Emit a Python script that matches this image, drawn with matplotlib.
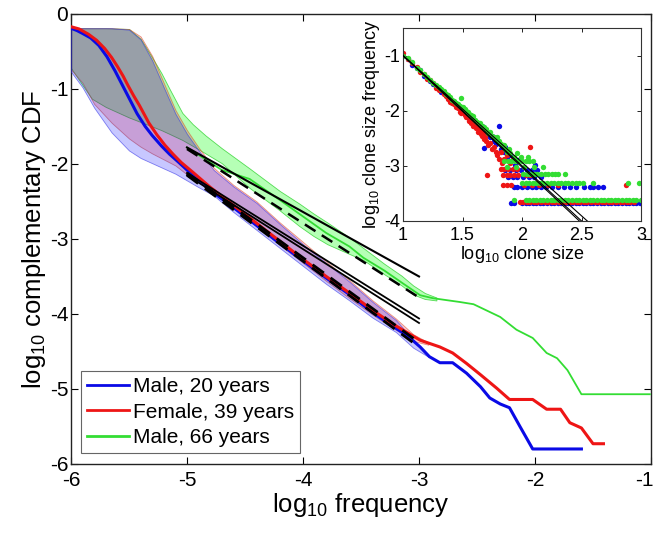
import numpy as np
import matplotlib
matplotlib.use("Agg")
import matplotlib.pyplot as plt
import matplotlib.transforms as mtransforms
from matplotlib.lines import Line2D

plt.rcParams['font.family'] = ['Liberation Sans', 'DejaVu Sans']
plt.rcParams['mathtext.fontset'] = 'custom'
plt.rcParams['mathtext.rm'] = 'Liberation Sans'
plt.rcParams['mathtext.it'] = 'Liberation Sans'

# ---------------- main panel data (log10 frequency vs log10 CCDF) ----------------
labels = ["Male, 20 years", "Female, 39 years", "Male, 66 years"]
c_blue, c_red, c_green = "#0a0ae6", "#ee1515", "#33dd33"

blue_x = [-6.0, -5.95, -5.9, -5.83, -5.76, -5.69, -5.62, -5.56, -5.5, -5.43, -5.36, -5.3, -5.22,
          -5.15, -5.07, -5.0, -4.8, -4.6, -4.4, -4.2, -4.0, -3.8, -3.6, -3.4, -3.22, -3.1, -2.99,
          -2.91, -2.82, -2.71, -2.59, -2.47, -2.39, -2.3, -2.22, -2.13, -2.02, -1.6]
blue_y = [-0.19, -0.22, -0.26, -0.32, -0.42, -0.57, -0.76, -0.94, -1.12, -1.33, -1.5, -1.62, -1.76,
          -1.87, -1.98, -2.08, -2.35, -2.58, -2.82, -3.06, -3.29, -3.52, -3.74, -3.98, -4.17, -4.29,
          -4.44, -4.57, -4.65, -4.65, -4.79, -4.97, -5.12, -5.2, -5.25, -5.5, -5.8, -5.8]

red_x = [-6.0, -5.93, -5.85, -5.78, -5.71, -5.65, -5.6, -5.55, -5.51, -5.46, -5.41, -5.33, -5.26,
         -5.19, -5.12, -5.05, -4.95, -4.8, -4.6, -4.4, -4.2, -4.0, -3.8, -3.6, -3.4, -3.22, -3.1,
         -2.99, -2.82, -2.71, -2.59, -2.47, -2.33, -2.22, -2.02, -1.9, -1.78, -1.7, -1.6, -1.5,
         -1.41]
red_y = [-0.17, -0.2, -0.27, -0.35, -0.46, -0.58, -0.7, -0.83, -0.95, -1.09, -1.22, -1.45, -1.61,
         -1.75, -1.87, -1.98, -2.11, -2.31, -2.55, -2.79, -3.03, -3.27, -3.5, -3.72, -3.95, -4.14,
         -4.25, -4.35, -4.44, -4.52, -4.66, -4.81, -4.99, -5.14, -5.14, -5.27, -5.27, -5.45, -5.52,
         -5.73, -5.73]

green_x = [-5.0, -4.7, -4.46, -4.2, -4.0, -3.8, -3.6, -3.48, -3.3, -3.16, -2.99, -2.88, -2.65,
           -2.53, -2.3, -2.16, -2.02, -1.9, -1.81, -1.72, -1.6, -1.01]
green_y = [-1.78, -2.08, -2.2, -2.48, -2.7, -2.92, -3.1, -3.25, -3.42, -3.57, -3.75, -3.79, -3.84,
           -3.87, -4.04, -4.21, -4.32, -4.52, -4.59, -4.75, -5.07, -5.07]

# confidence bands
band_x = [-6.0, -5.9, -5.8, -5.65, -5.5, -5.4, -5.3, -5.2, -5.1, -5.0, -4.9, -4.77, -4.6,
          -4.4, -4.2, -4.0, -3.8, -3.6, -3.4, -3.2, -3.05, -2.92]
blue_hi = [-0.19, -0.19, -0.19, -0.19, -0.21, -0.34, -0.62, -0.98, -1.33, -1.6, -1.82, -2.08, -2.3,
           -2.52, -2.8, -3.07, -3.32, -3.57, -3.84, -4.08, -4.34, -4.55]
blue_lo = [-0.77, -0.98, -1.25, -1.58, -1.82, -1.92, -1.99, -2.06, -2.13, -2.22, -2.31, -2.42, -2.64,
           -2.88, -3.12, -3.36, -3.6, -3.82, -4.05, -4.24, -4.45, -4.57]
red_hi = [-0.19, -0.19, -0.19, -0.19, -0.2, -0.3, -0.56, -0.92, -1.28, -1.55, -1.78, -2.05, -2.28,
          -2.5, -2.78, -3.04, -3.3, -3.55, -3.82, -4.06, -4.27, -4.38]
red_lo = [-0.74, -0.92, -1.2, -1.45, -1.66, -1.77, -1.86, -1.94, -2.02, -2.14, -2.24, -2.36, -2.58,
          -2.83, -3.08, -3.32, -3.56, -3.79, -4.01, -4.21, -4.36, -4.41]

gband_x = [-6.0, -5.9, -5.82, -5.7, -5.5, -5.4, -5.3, -5.22, -5.15, -5.04, -4.95, -4.84, -4.7,
           -4.46, -4.2, -4.03, -3.91, -3.79, -3.6, -3.48, -3.3, -3.15, -3.05, -2.95, -2.85]
green_hi = [-0.19, -0.19, -0.19, -0.19, -0.2, -0.33, -0.58, -0.79, -1.0, -1.32, -1.47, -1.62, -1.79,
            -2.06, -2.36, -2.53, -2.66, -2.78, -2.98, -3.12, -3.33, -3.49, -3.62, -3.72, -3.78]
green_lo = [-0.72, -0.95, -1.13, -1.24, -1.38, -1.44, -1.5, -1.55, -1.6, -1.68, -1.76, -1.86, -1.99,
            -2.32, -2.62, -2.83, -2.96, -3.07, -3.2, -3.28, -3.47, -3.62, -3.74, -3.8, -3.82]

# power-law fits (end points)
fit_x = [-5.0, -3.0]
fit_green_solid = [-1.78, -3.5]
fit_green_dash = [-1.8, -3.78]
fit_br_solid1 = [-2.12, -4.06]
fit_br_solid2 = [-2.15, -4.12]
fit_br_dash1 = [-2.12, -4.38]
fit_br_dash2 = [-2.15, -4.44]

# ---------------- inset data (log10 clone size vs log10 frequency) ----------------
ib_x = [1.000, 1.041, 1.079, 1.114, 1.146, 1.176, 1.204, 1.230, 1.255, 1.279, 1.301, 1.322, 1.342,
        1.362, 1.380, 1.398, 1.415, 1.431, 1.447, 1.462, 1.477, 1.491, 1.505, 1.519, 1.531, 1.544,
        1.556, 1.568, 1.580, 1.591, 1.602, 1.623, 1.643, 1.663, 1.681, 1.699, 1.716, 1.732, 1.748,
        1.763, 1.778, 1.792, 1.806, 1.820, 1.845, 1.857, 1.875, 1.903, 1.940, 1.970, 2.110]
ib_y = [-1.00, -1.07, -1.17, -1.22, -1.27, -1.37, -1.40, -1.47, -1.52, -1.55, -1.58, -1.66, -1.67,
        -1.71, -1.77, -1.78, -1.85, -1.84, -1.88, -1.91, -1.93, -2.00, -1.96, -2.05, -2.07, -2.06,
        -2.13, -2.10, -2.18, -2.15, -2.23, -2.22, -2.31, -2.28, -2.68, -2.38, -2.42, -2.48, -2.45,
        -2.55, -2.60, -2.56, -2.28, -2.70, -2.75, -2.65, -2.87, -2.80, -2.98, -2.90, -2.98]
ib_levels = [-3.08, -3.20, -3.38, -3.68]
ib_rows = [
    [1.86, 1.90, 1.95, 1.99, 2.04, 2.08, 2.13],
    [1.88, 1.92, 1.96, 2.01, 2.06, 2.10, 2.16],
    [1.93, 1.96, 2.00, 2.04, 2.08, 2.12, 2.16, 2.20, 2.25, 2.30, 2.35, 2.40, 2.45, 2.52, 2.57,
     2.60, 2.64, 2.68],
    [1.91, 1.93, 2.00, 2.03, 2.06, 2.09, 2.12, 2.15, 2.18, 2.21, 2.24, 2.27, 2.30, 2.33, 2.36,
     2.39, 2.42, 2.45, 2.48, 2.51, 2.54, 2.57, 2.60, 2.63, 2.66, 2.69, 2.72, 2.75, 2.78, 2.81,
     2.84, 2.87, 2.90, 2.93, 2.96, 2.99],
]

ir_x = [1.000, 1.041, 1.079, 1.114, 1.146, 1.176, 1.204, 1.230, 1.255, 1.279, 1.301, 1.322, 1.342,
        1.362, 1.380, 1.398, 1.415, 1.431, 1.447, 1.462, 1.477, 1.491, 1.505, 1.519, 1.531, 1.544,
        1.556, 1.568, 1.580, 1.591, 1.602, 1.613, 1.623, 1.633, 1.643, 1.653, 1.663, 1.672, 1.681,
        1.690, 1.699, 1.716, 1.732, 1.748, 1.763, 1.778, 1.792, 1.806, 1.820, 1.833, 1.845, 1.875,
        1.903, 1.924, 2.064, 1.708]
ir_y = [-0.96, -1.06, -1.14, -1.20, -1.30, -1.33, -1.42, -1.45, -1.50, -1.58, -1.62, -1.63, -1.70,
        -1.74, -1.78, -1.84, -1.86, -1.88, -1.93, -1.96, -2.02, -2.04, -2.00, -2.08, -2.12, -2.10,
        -2.18, -2.22, -2.20, -2.27, -2.25, -2.32, -2.30, -2.38, -2.35, -2.42, -2.45, -2.40, -2.52,
        -2.48, -2.55, -2.62, -2.58, -2.70, -2.65, -2.75, -2.80, -2.87, -2.75, -2.95, -2.87, -2.80,
        -2.95, -2.87, -2.65, -3.17]
ir_levels = [-3.05, -3.17, -3.35, -3.65]
ir_rows = [
    [1.82, 1.85, 1.88, 1.92, 1.96],
    [1.84, 1.87, 1.90, 1.93, 1.97, 2.03, 2.07],
    [1.84, 1.87, 1.91, 2.02, 2.08, 2.14, 2.22, 2.30, 2.87],
    [1.98, 2.01, 2.04, 2.07, 2.10, 2.13, 2.16, 2.19, 2.22, 2.25, 2.28, 2.31, 2.34, 2.37, 2.40,
     2.43, 2.46, 2.49, 2.52, 2.55, 2.58, 2.61, 2.64, 2.67, 2.70, 2.73, 2.76, 2.79, 2.82, 2.85,
     2.88, 2.91, 2.94],
]

ig_x = [1.000, 1.041, 1.079, 1.114, 1.146, 1.176, 1.204, 1.230, 1.255, 1.279, 1.301, 1.322, 1.342,
        1.362, 1.380, 1.398, 1.415, 1.431, 1.447, 1.462, 1.477, 1.491, 1.505, 1.519, 1.531, 1.544,
        1.556, 1.568, 1.580, 1.591, 1.602, 1.623, 1.643, 1.663, 1.681, 1.699, 1.716, 1.732, 1.748,
        1.763, 1.778, 1.792, 1.806, 1.820, 1.845, 1.857, 1.875, 1.892, 1.903, 1.930, 1.960, 1.990,
        2.050]
ig_y = [-1.00, -1.05, -1.12, -1.22, -1.27, -1.34, -1.38, -1.44, -1.49, -1.53, -1.57, -1.60, -1.65,
        -1.69, -1.72, -1.76, -1.80, -1.82, -1.86, -1.87, -1.91, -1.77, -1.94, -1.97, -2.00, -2.03,
        -2.06, -2.07, -2.12, -2.10, -2.17, -2.20, -2.22, -2.27, -2.30, -2.33, -2.40, -2.38, -2.45,
        -2.48, -2.52, -2.48, -2.55, -2.60, -2.63, -2.70, -2.75, -2.70, -2.77, -2.84, -2.77, -2.84,
        -2.84]
ig_levels = [-2.92, -3.02, -3.14, -3.32, -3.62]
ig_rows = [
    [1.85, 1.88, 1.91, 1.94, 1.97, 2.00, 2.03, 2.06, 2.09],
    [1.87, 1.95, 2.02, 2.10, 2.18],
    [2.01, 2.04, 2.07, 2.10, 2.13, 2.16, 2.19, 2.22, 2.25, 2.28, 2.30, 2.36],
    [2.00, 2.03, 2.06, 2.09, 2.12, 2.15, 2.18, 2.21, 2.24, 2.27, 2.30, 2.33, 2.36, 2.39, 2.42,
     2.45, 2.48, 2.51, 2.60, 2.89, 2.98],
    [1.93, 2.03, 2.06, 2.09, 2.12, 2.15, 2.18, 2.21, 2.24, 2.27, 2.30, 2.33, 2.36, 2.39, 2.42,
     2.45, 2.48, 2.51, 2.54, 2.57, 2.60, 2.63, 2.66, 2.69, 2.72, 2.75, 2.78, 2.81, 2.84, 2.87,
     2.90, 2.93, 2.96, 3.00],
]

inset_fit_x = [1.0, 2.6]
inset_fit_y = [[-1.0, -4.24], [-1.0, -4.20], [-1.0, -4.10]]

# ---------------- figure ----------------
fig = plt.figure(figsize=(6.58, 5.33), dpi=100)
ax = fig.add_axes([0.1079, 0.1295, 0.8815, 0.8443])

ax.fill_between(gband_x, green_lo, green_hi, facecolor=(0, 1, 0, 0.29),
                edgecolor=(0.1, 0.8, 0.1, 0.7), linewidth=0.6, zorder=1)
ax.fill_between(band_x, red_lo, red_hi, facecolor=(1, 0, 0, 0.2),
                edgecolor=(0.85, 0.3, 0.2, 0.6), linewidth=0.6, zorder=2)
ax.fill_between(band_x, blue_lo, blue_hi, facecolor=(0, 0, 1, 0.22),
                edgecolor=(0.2, 0.2, 0.9, 0.6), linewidth=0.6, zorder=3)

ax.plot(green_x, green_y, color=c_green, lw=1.3, zorder=4)
ax.plot(blue_x, blue_y, color=c_blue, lw=2.2, zorder=5)
ax.plot(red_x, red_y, color=c_red, lw=2.2, zorder=5)

ax.plot(fit_x, fit_green_solid, color='k', lw=1.5, zorder=6)
ax.plot(fit_x, fit_br_solid1, color='k', lw=1.3, zorder=6)
ax.plot(fit_x, fit_br_solid2, color='k', lw=1.3, zorder=6)
ax.plot(fit_x, fit_green_dash, color='k', lw=1.8, ls=(0, (5, 3)), zorder=6)
ax.plot(fit_x, fit_br_dash1, color='k', lw=2.0, ls=(0, (5, 3)), zorder=6)
ax.plot(fit_x, fit_br_dash2, color='k', lw=2.0, ls=(0, (5, 3)), zorder=6)

ax.set_xlim(-6, -1)
ax.set_ylim(-6, 0)
ax.set_xticks([-6, -5, -4, -3, -2, -1])
ax.set_yticks([-6, -5, -4, -3, -2, -1, 0])
ax.set_xticklabels(['-6', '-5', '-4', '-3', '-2', '-1'])
ax.set_yticklabels(['-6', '-5', '-4', '-3', '-2', '-1', '0'])
ax.tick_params(direction='in', top=True, right=True, length=5, width=0.8,
               labelsize=15)
ax.tick_params(axis='y', pad=2)
ax.tick_params(axis='x', pad=5)
# keep the last x tick label inside the canvas
last = ax.get_xticklabels()[-1]
last.set_transform(last.get_transform() +
                   mtransforms.ScaledTranslation(-7 / 100, 0, fig.dpi_scale_trans))
for s in ax.spines.values():
    s.set_linewidth(1.0)
    s.set_color('#222222')
ax.set_xlabel(r'log$_{10}$ frequency', fontsize=18.5, labelpad=1)
ax.set_ylabel(r'log$_{10}$ complementary CDF', fontsize=18.5, labelpad=1)

handles = [Line2D([], [], color=c_blue, lw=2),
           Line2D([], [], color=c_red, lw=2),
           Line2D([], [], color=c_green, lw=2)]
leg = ax.legend(handles, labels, loc='lower left', bbox_to_anchor=(0.017, 0.024),
                borderaxespad=0, fontsize=15, fancybox=False, framealpha=1,
                edgecolor='#666666', handlelength=2.0, handletextpad=0.2,
                labelspacing=0.3, borderpad=0.3)
leg.get_frame().set_linewidth(0.8)

# inset
axi = fig.add_axes([0.6125, 0.5854, 0.3617, 0.3621])
for xs, ys, lev, rows, col in [(ib_x, ib_y, ib_levels, ib_rows, c_blue),
                               (ir_x, ir_y, ir_levels, ir_rows, c_red),
                               (ig_x, ig_y, ig_levels, ig_rows, c_green)]:
    px = list(xs)
    py = list(ys)
    for lv, row in zip(lev, rows):
        px += row
        py += [lv] * len(row)
    axi.scatter(px, py, s=15, color=col, linewidths=0, zorder=2)
for fy in inset_fit_y:
    axi.plot(inset_fit_x, fy, color='k', lw=0.8, zorder=3)
axi.set_xlim(1, 3)
axi.set_ylim(-4, -0.5)
axi.set_xticks([1, 1.5, 2, 2.5, 3])
axi.set_xticklabels(['1', '1.5', '2', '2.5', '3'])
axi.set_yticks([-4, -3, -2, -1])
axi.set_yticklabels(['-4', '-3', '-2', '-1'])
axi.tick_params(direction='in', top=True, right=True, length=3, width=0.6,
                labelsize=13)
axi.tick_params(axis='x', pad=4)
axi.tick_params(axis='y', pad=2)
for s in axi.spines.values():
    s.set_linewidth(0.8)
    s.set_color('#333333')
axi.set_xlabel(r'log$_{10}$ clone size', fontsize=13, labelpad=0)
axi.set_ylabel(r'log$_{10}$ clone size frequency', fontsize=13, labelpad=2)

fig.savefig('out.png', dpi=100)
